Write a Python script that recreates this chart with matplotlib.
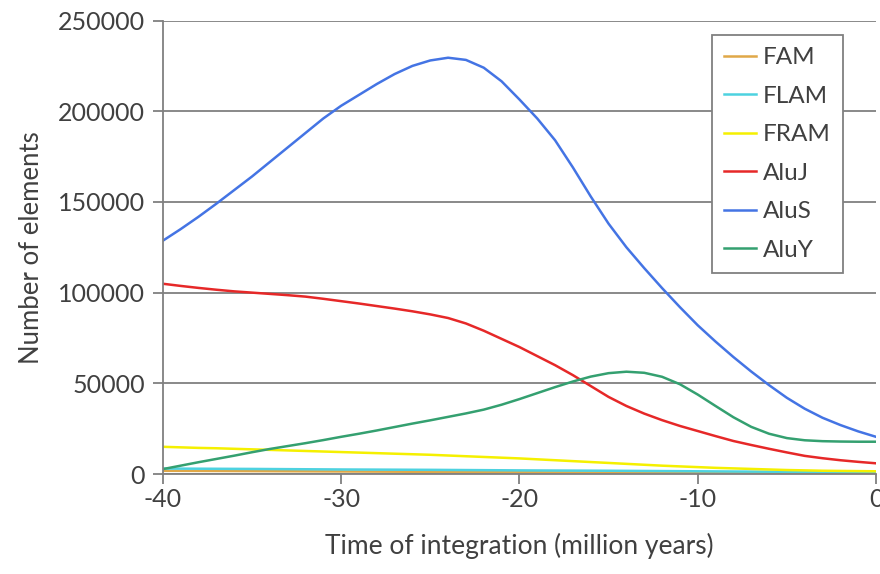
import matplotlib
matplotlib.use("Agg")
import matplotlib.pyplot as plt

# time of integration (million years), one point per million years
time = list(range(-40, 1))

alus = [128600, 135000, 141800, 149000, 156500, 164000, 172000, 180000, 188000, 196000,
        203000, 209000, 215000, 220500, 225000, 228000, 229500, 228300, 224000, 216500,
        206500, 196000, 184000, 169000, 153000, 138000, 125000, 113500, 102500, 92000,
        82000, 73000, 64500, 56500, 49000, 42000, 36000, 31000, 27000, 23500, 20500]
aluj = [104900, 103700, 102600, 101600, 100700, 100000, 99300, 98600, 97800, 96600,
        95300, 94000, 92600, 91200, 89700, 88000, 86000, 83000, 79000, 74500,
        70000, 65000, 60000, 54500, 48500, 42500, 37500, 33300, 29700, 26500,
        23700, 20900, 18200, 16000, 13900, 11900, 10000, 8700, 7600, 6700, 5900]
aluy = [2700, 4600, 6500, 8300, 10100, 12000, 13800, 15400, 17000, 18700,
        20500, 22200, 24000, 25900, 27800, 29600, 31500, 33400, 35500, 38200,
        41300, 44600, 47900, 51000, 53700, 55600, 56400, 55800, 53600, 49500,
        43800, 37500, 31300, 26000, 22200, 19800, 18600, 18100, 17900, 17800, 17800]
fram = [15000, 14700, 14400, 14200, 13900, 13600, 13300, 13000, 12700, 12400,
        12100, 11800, 11500, 11200, 10900, 10600, 10200, 9800, 9400, 9000,
        8600, 8100, 7600, 7100, 6600, 6100, 5600, 5100, 4600, 4200,
        3800, 3400, 3100, 2800, 2500, 2200, 2000, 1800, 1700, 1600, 1500]

# the two small families, read every 5 million years
time_small = [-40, -35, -30, -25, -20, -15, -10, -5, 0]
fam = [1800, 1600, 1400, 1200, 1000, 800, 600, 400, 300]
flam = [3000, 2800, 2500, 2300, 2000, 1800, 1500, 1200, 1000]

series = [("FAM", time_small, fam, "#E0A848"), ("FLAM", time_small, flam, "#4DD2E0"),
          ("FRAM", time, fram, "#F5F000"), ("AluJ", time, aluj, "#E62828"),
          ("AluS", time, alus, "#4474E4"), ("AluY", time, aluy, "#34A070")]

plt.rcParams['font.family'] = ['Lato', 'DejaVu Sans']
plt.rcParams['axes.unicode_minus'] = False
txt = "#404040"

fig = plt.figure(figsize=(8.8, 5.74), dpi=100)
ax = fig.add_axes([0.185, 0.1742, 0.8105, 0.79])

for name, xs, vals, col in series:
    ax.plot(xs, vals, color=col, lw=1.8, label=name, solid_joinstyle="round")

ax.set_xlim(-40, 0)
ax.set_ylim(0, 250000)
ax.set_xticks([-40, -30, -20, -10, 0])
ax.set_yticks(range(0, 250001, 50000))
ax.yaxis.grid(True, color="#808080", lw=1.3)
ax.set_axisbelow(True)
for s in ["top", "right"]:
    ax.spines[s].set_visible(False)
for s in ["left", "bottom"]:
    ax.spines[s].set_color("#808080")
    ax.spines[s].set_linewidth(1.3)
ax.tick_params(direction="out", length=7, width=1.3, color="#808080",
               labelsize=18, labelcolor=txt, pad=6)
ax.tick_params(axis="x", pad=3)
ax.set_xlabel("Time of integration (million years)", fontsize=19, color=txt, labelpad=16)
ax.set_ylabel("Number of elements", fontsize=18.5, color=txt, labelpad=10)

leg = ax.legend(loc="upper left", bbox_to_anchor=(0.77, 0.968), fontsize=17.5,
                frameon=True, fancybox=False, handlelength=1.3, handletextpad=0.3,
                labelspacing=0.72, borderpad=0.5, framealpha=1, borderaxespad=0)
leg.get_frame().set_edgecolor("#808080")
leg.get_frame().set_linewidth(1.3)
for t in leg.get_texts():
    t.set_color(txt)

fig.savefig("out.png", dpi=100)
